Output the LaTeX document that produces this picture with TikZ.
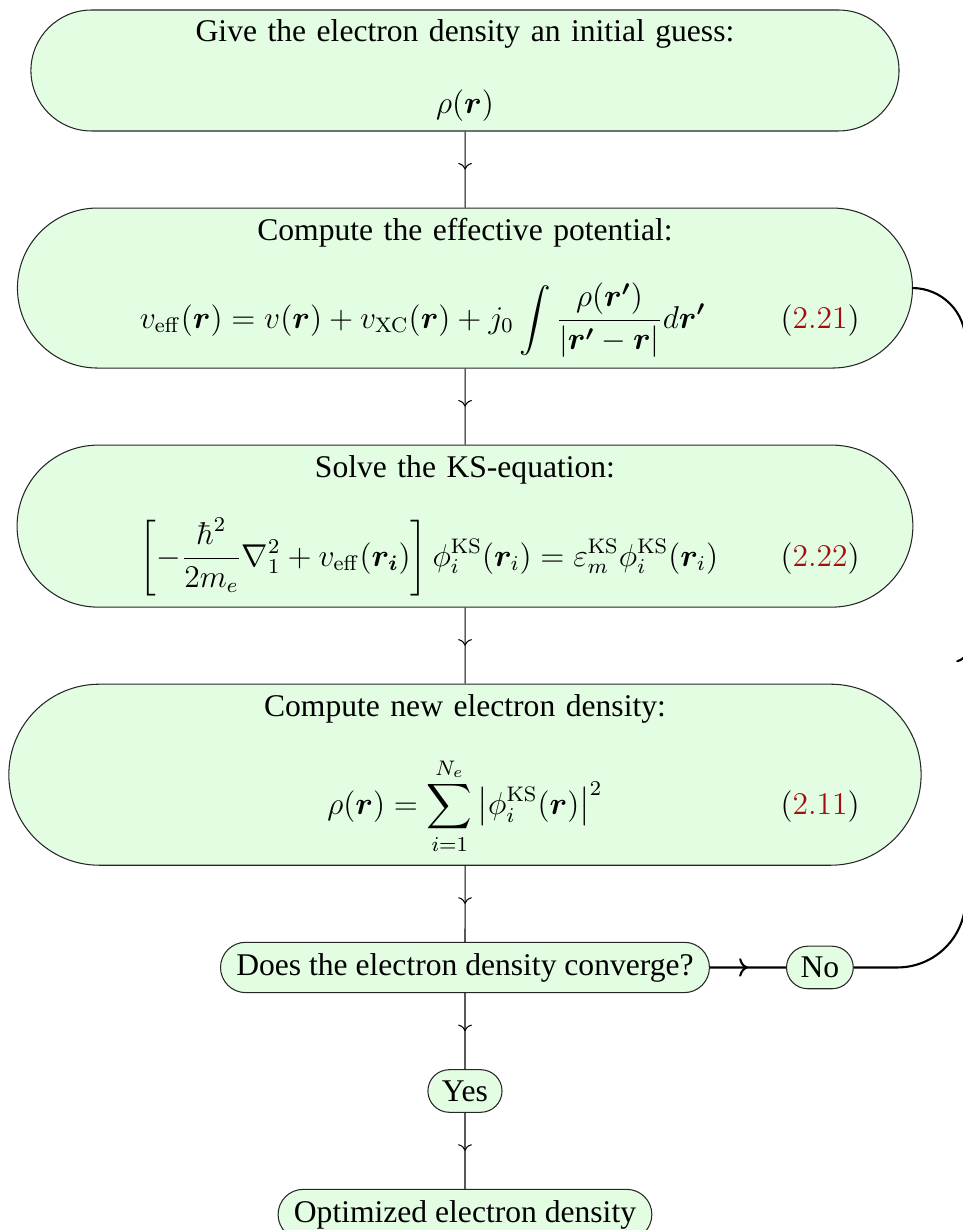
\documentclass[tikz,border=0pt,12pt]{standalone}
\usepackage[no-math]{fontspec}
\setmainfont{Liberation Serif}
\usepackage{amsmath,bm}
\usetikzlibrary{arrows.meta,positioning,shapes.misc,decorations.markings}
\definecolor{mint}{RGB}{227,253,227}
\definecolor{eqred}{RGB}{165,12,12}
\newcommand{\eqtag}[1]{\llap{$(\textcolor{eqred}{#1})$\hspace{-0.42cm}}}

\begin{document}
\begin{tikzpicture}[node distance=1.015cm,
    stage/.style={rounded rectangle,draw=black!85,fill=mint,inner sep=0pt,text width=9.7cm,align=center},
    pill/.style={rounded rectangle,draw=black!85,fill=mint,inner xsep=4.3pt,inner ysep=4.1pt},
    flow/.style={postaction={decorate},decoration={markings,mark=at position 0.5 with {\arrow{>}}}}]
  \useasboundingbox (0,0) rectangle (12.857,-16.422);
  \node[stage,minimum width=11.59cm,minimum height=1.615cm] (guess) at (6.208,-0.941)
    {Give the electron density an initial guess:\\[13pt] $\rho(\bm r)$};
  \node[stage,minimum width=11.95cm,minimum height=2.136cm,below=of guess] (veff)
    {Compute the effective potential:\\[12.5pt]
     \makebox[\linewidth][l]{\hspace{0.51cm}$\displaystyle v_{\mathrm{eff}}(\bm r)=v(\bm r)+v_{\mathrm{XC}}(\bm r)+j_0\int\frac{\rho(\bm{r'})}{\left|\bm{r'}-\bm r\right|}d\bm{r'}$}\eqtag{2.21}};
  \node[stage,minimum width=11.96cm,minimum height=2.163cm,below=of veff] (ks)
    {Solve the KS-equation:\\[11.5pt]
     \makebox[\linewidth][l]{\hspace{0.51cm}$\displaystyle \left[-\frac{\hbar^2}{2m_e}\nabla_1^2+v_{\mathrm{eff}}(\bm{r_i})\right]\phi_i^{\mathrm{KS}}(\bm r_i)=\varepsilon_m^{\mathrm{KS}}\phi_i^{\mathrm{KS}}(\bm r_i)$}\eqtag{2.22}};
  \node[stage,minimum width=12.18cm,minimum height=2.417cm,below=of ks] (rho)
    {Compute new electron density:\\[12pt]
     \makebox[\linewidth]{$\displaystyle \rho(\bm r)=\sum_{i=1}^{N_e}\left|\phi_i^{\mathrm{KS}}(\bm r)\right|^2$}\eqtag{2.11}};
  \node[pill,below=of rho] (conv) {Does the electron density converge?};
  \node[pill,right=of conv] (no) {No};
  \node[pill,below=of conv] (yes) {Yes};
  \node[pill,below=of yes] (done) {Optimized electron density};
  % main line
  \foreach \a/\b in {guess/veff,veff/ks,ks/rho,rho/conv,conv/yes,yes/done}
    \draw[flow] (\a) -- (\b);
  % back to the potential
  \coordinate (back) at (12.89,-8.5);
  \draw[flow,thick] (conv) -- (no);
  \draw[flow,thick,rounded corners=0.91cm] (no) -| (back) [rounded corners=0.71cm] |- (veff);
\end{tikzpicture}
\end{document}
